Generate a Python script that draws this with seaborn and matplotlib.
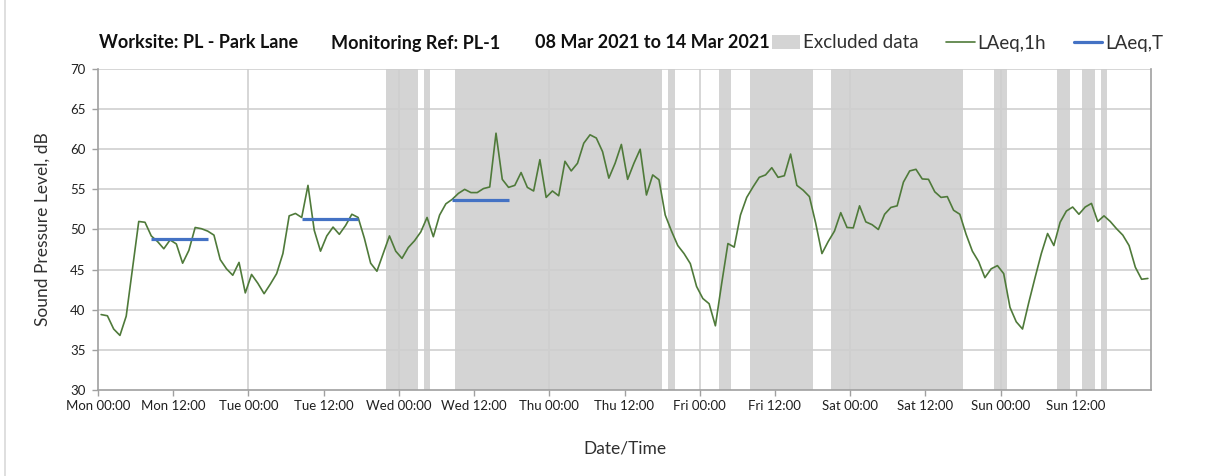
import matplotlib
matplotlib.use('Agg')
import matplotlib.pyplot as plt
import numpy as np
import pandas as pd
import seaborn as sns
from matplotlib.patches import Patch
from matplotlib.lines import Line2D

# Hourly LAeq,1h values, Mon 08 Mar 00:00 to Sun 14 Mar 23:00 (168 hours)
laeq_1h = [
    39.4, 39.25, 37.6, 36.8, 39.2, 45.1, 51.0, 50.9, 49.2, 48.5, 47.6, 48.7,
    48.2, 45.8, 47.4, 50.25, 50.1, 49.8, 49.3, 46.25, 45.1, 44.3, 45.9, 42.1,
    44.4, 43.3, 42.0, 43.2, 44.5, 47.0, 51.7, 52.0, 51.5, 55.5, 49.9, 47.3,
    49.2, 50.3, 49.4, 50.5, 51.9, 51.5, 48.9, 45.8, 44.8, 47.0, 49.2, 47.3,
    46.4, 47.75, 48.6, 49.7, 51.5, 49.1, 51.8, 53.2, 53.75, 54.5, 55.0, 54.6,
    54.6, 55.1, 55.3, 62.0, 56.25, 55.25, 55.5, 57.1, 55.25, 54.8, 58.7, 54.0,
    54.8, 54.2, 58.5, 57.3, 58.25, 60.75, 61.8, 61.4, 59.7, 56.4, 58.25, 60.6,
    56.25, 58.25, 60.0, 54.3, 56.8, 56.2, 51.8, 49.8, 48.0, 47.0, 45.75, 42.9,
    41.4, 40.75, 38.0, 43.25, 48.25, 47.8, 51.8, 54.0, 55.3, 56.5, 56.8, 57.7,
    56.5, 56.7, 59.4, 55.5, 54.9, 54.1, 50.8, 47.0, 48.5, 49.8, 52.1, 50.25,
    50.2, 52.95, 50.95, 50.6, 50.0, 51.9, 52.75, 52.95, 55.9, 57.3, 57.5, 56.3,
    56.25, 54.7, 54.0, 54.1, 52.4, 51.9, 49.4, 47.3, 46.0, 44.0, 45.1, 45.5,
    44.5, 40.3, 38.5, 37.6, 40.9, 44.0, 47.0, 49.5, 48.0, 50.9, 52.3, 52.8,
    51.9, 52.8, 53.25, 51.0, 51.7, 51.0, 50.1, 49.3, 48.0, 45.3, 43.8, 43.9,
]

# Excluded periods (hours from Mon 00:00)
excl_start = [46, 52, 57, 91, 99, 104, 117, 143, 153, 157, 160]
excl_end = [51, 53, 90, 92, 101, 114, 138, 145, 155, 159, 161]

# LAeq,T daytime periods
laeqt_start = [8.5, 32.5, 56.5]
laeqt_end = [17.5, 41.5, 65.5]
laeqt_value = [48.8, 51.25, 53.67]

tick_labels = ['Mon 00:00', 'Mon 12:00', 'Tue 00:00', 'Tue 12:00', 'Wed 00:00',
               'Wed 12:00', 'Thu 00:00', 'Thu 12:00', 'Fri 00:00', 'Fri 12:00',
               'Sat 00:00', 'Sat 12:00', 'Sun 00:00', 'Sun 12:00']

title_parts = ['Worksite: PL - Park Lane', 'Monitoring Ref: PL-1',
               '08 Mar 2021 to 14 Mar 2021']

df = pd.DataFrame({'hour': np.arange(len(laeq_1h)) + 0.5, 'laeq': laeq_1h})

sns.set_style('white')
plt.rcParams['font.family'] = ['Lato', 'DejaVu Sans']

green = '#4f7a3a'
blue = '#4472c4'
grey = '#d4d4d4'
grid_c = '#cfcfcf'
axis_c = '#a0a0a0'

fig = plt.figure(figsize=(12.05, 4.76), dpi=100)
fig.add_artist(Line2D([5 / 1205, 5 / 1205], [0, 1], color='#d9d9d9', lw=1.2))
ax = fig.add_axes([98 / 1205, 1 - 390 / 476, (1151 - 98) / 1205, (390 - 69) / 476])

for s, e in zip(excl_start, excl_end):
    ax.axvspan(s, e, color=grey, lw=0, zorder=0)

ax.set_yticks(np.arange(30, 71, 5))
ax.set_xticks(np.arange(0, 168, 12))
ax.set_xticklabels(tick_labels)
for y in np.arange(35, 71, 5):
    ax.axhline(y, color=grid_c, lw=1.2, zorder=1)
for x in np.arange(24, 168, 24):
    ax.axvline(x, color=grid_c, lw=1.2, zorder=1)

sns.lineplot(data=df, x='hour', y='laeq', ax=ax, color=green, lw=1.2, zorder=3)
ax.hlines(laeqt_value, laeqt_start, laeqt_end, color=blue, lw=2.3, zorder=4)

ax.set_xlim(0, 168)
ax.set_ylim(30, 70)
for side in ['left', 'bottom', 'right']:
    ax.spines[side].set_color(axis_c)
    ax.spines[side].set_linewidth(1.2)
ax.spines['top'].set_visible(False)
ax.tick_params(axis='both', which='both', length=4, width=1, color=axis_c,
               labelsize=9.5, labelcolor='#202020', direction='out')
ax.tick_params(axis='x', pad=3, bottom=True)
ax.tick_params(axis='y', pad=5, left=True)

ax.set_xlabel('Date/Time', fontsize=12.5, color='#303030', labelpad=21)
ax.set_ylabel('Sound Pressure Level, dB', fontsize=12.5, color='#303030', labelpad=14)

for part, xpos in zip(title_parts, [99, 331, 535]):
    fig.text(xpos / 1205, 1 - 43 / 476, part, fontsize=13, fontweight='bold',
             va='center', ha='left', color='#101010')

handles = [Patch(facecolor=grey, edgecolor='none'),
           Line2D([], [], color=green, lw=1.2),
           Line2D([], [], color=blue, lw=2.3)]
fig.legend(handles, ['Excluded data', 'LAeq,1h', 'LAeq,T'], ncol=3, frameon=False,
           loc='center right', bbox_to_anchor=(1163 / 1205, 1 - 43 / 476),
           fontsize=13.5, handlelength=1.5, handletextpad=0.15, columnspacing=1.5,
           labelcolor='#303030', borderaxespad=0, borderpad=0)

fig.savefig('out.png', dpi=100)
